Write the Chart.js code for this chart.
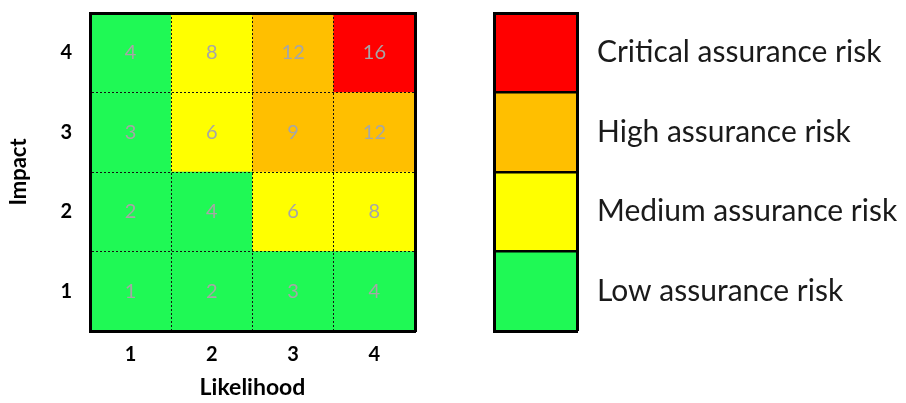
<!DOCTYPE html>
<html>
<head>
<meta charset="utf-8">
<script src="https://cdn.jsdelivr.net/npm/chart.js@4"></script>
<style>
  body { margin: 0; background: #ffffff; }
  #wrap { position: relative; width: 906px; height: 403px; }
  #matrixBox { position: absolute; left: 0; top: 0; width: 470px; height: 403px; }
  #keyBox { position: absolute; left: 470px; top: 0; width: 436px; height: 403px; }
</style>
</head>
<body>
<div id="wrap">
  <div id="matrixBox"><canvas id="matrixChart"></canvas></div>
  <div id="keyBox"><canvas id="keyChart"></canvas></div>
</div>
<script>
// Likelihood along the bottom, impact up the side
var likelihood = ['1', '2', '3', '4'];
var impact = ['1', '2', '3', '4'];

// scores for each impact row (bottom row first)
var scoresImpact1 = [1, 2, 3, 4];
var scoresImpact2 = [2, 4, 6, 8];
var scoresImpact3 = [3, 6, 9, 12];
var scoresImpact4 = [4, 8, 12, 16];

var GREEN = '#1FF955';
var YELLOW = '#FFFF00';
var ORANGE = '#FFBF00';
var RED = '#FF0000';

// cell colours, bottom row first
var coloursImpact1 = [GREEN, GREEN, GREEN, GREEN];
var coloursImpact2 = [GREEN, GREEN, YELLOW, YELLOW];
var coloursImpact3 = [GREEN, YELLOW, ORANGE, ORANGE];
var coloursImpact4 = [GREEN, YELLOW, ORANGE, RED];

// key, bottom first
var keyLabels = ['Low assurance risk', 'Medium assurance risk', 'High assurance risk', 'Critical assurance risk'];
var keyColours = [GREEN, YELLOW, ORANGE, RED];

var FONT = 'Lato, "Open Sans", sans-serif';

var scores = [scoresImpact1, scoresImpact2, scoresImpact3, scoresImpact4];
var colours = [coloursImpact1, coloursImpact2, coloursImpact3, coloursImpact4];

// inner half steps only: lines on whole numbers, labels in between
function halfTicks(scale) {
    var t = [];
    for (var v = scale.min + 0.5; v < scale.max; v += 0.5) t.push({ value: v });
    scale.ticks = t;
}
function isWhole(v) { return Math.abs(v - Math.round(v)) < 0.001; }

// keep the plot area where it is, no room for label overhang
function noOverhang(s) {
    s.paddingTop = 0;
    s.paddingBottom = 0;
}

// writes the score in the middle of each cell
var cellLabels = {
    id: 'cellLabels',
    afterDatasetsDraw: function(chart) {
        var ctx = chart.ctx;
        ctx.save();
        ctx.font = '20px ' + FONT;
        ctx.fillStyle = '#A6A6A6';
        ctx.textAlign = 'center';
        ctx.textBaseline = 'middle';
        chart.data.datasets.forEach(function(ds, di) {
            var meta = chart.getDatasetMeta(di);
            meta.data.forEach(function(bar, i) {
                var mid = bar.y + (bar.base - bar.y) / 2;
                ctx.fillText(String(ds.scores[i]), bar.x, mid);
            });
        });
        ctx.restore();
    }
};

function borderAxis(position) {
    return {
        position: position,
        display: true,
        grid: { display: false, drawTicks: false },
        ticks: { display: false },
        border: { display: true, color: '#000000', width: 3, z: 2 },
        afterFit: function(s) {
            if (position === 'top') s.height = 0; else s.width = 0;
            noOverhang(s);
        }
    };
}

var matrixDatasets = impact.map(function(lbl, i) {
    return {
        label: 'Impact ' + lbl,
        data: likelihood.map(function() { return 1; }),
        scores: scores[i],
        backgroundColor: colours[i],
        borderWidth: 0,
        categoryPercentage: 1,
        barPercentage: 1
    };
});

new Chart(document.getElementById('matrixChart'), {
    type: 'bar',
    data: { labels: likelihood, datasets: matrixDatasets },
    plugins: [cellLabels],
    options: {
        responsive: true,
        maintainAspectRatio: false,
        animation: false,
        events: [],
        layout: { padding: { left: 0, top: 13, right: 55, bottom: 0 } },
        plugins: { legend: { display: false }, tooltip: { enabled: false } },
        scales: {
            x: {
                stacked: true,
                grid: { color: '#111111', lineWidth: 1, drawTicks: false, z: 1 },
                border: { display: true, color: '#000000', width: 3, dash: [2, 2], z: 2 },
                ticks: { color: '#000000', font: { family: FONT, size: 20, weight: 'bold' }, padding: 12 },
                title: { display: true, text: 'Likelihood', color: '#000000', font: { family: FONT, size: 23, weight: 'bold' }, padding: { top: 0, bottom: 2 } },
                afterFit: function(s) { s.height = 72; }
            },
            y: {
                stacked: true,
                min: 0,
                max: 4,
                afterBuildTicks: halfTicks,
                grid: {
                    drawTicks: false,
                    lineWidth: 1,
                    z: 1,
                    color: function(c) { return c.tick && isWhole(c.tick.value) ? '#111111' : 'rgba(0,0,0,0)'; }
                },
                border: { display: true, color: '#000000', width: 3, dash: [2, 2], z: 2 },
                ticks: {
                    autoSkip: false,
                    padding: 18,
                    color: '#000000',
                    font: { family: FONT, size: 20, weight: 'bold' },
                    callback: function(v) { return isWhole(v) ? '' : impact[Math.floor(v)]; }
                },
                title: { display: true, text: 'Impact', color: '#000000', font: { family: FONT, size: 22, weight: 'bold' }, padding: { top: 6, bottom: 0 } },
                afterFit: function(s) { s.width = 90; noOverhang(s); }
            },
            xTop: borderAxis('top'),
            yRight: borderAxis('right')
        }
    }
});

// key: one stacked column, labels on the right axis
var keyDatasets = keyLabels.map(function(lbl, i) {
    return {
        label: lbl,
        data: [1],
        backgroundColor: keyColours[i],
        borderWidth: 0,
        categoryPercentage: 1,
        barPercentage: 1
    };
});

new Chart(document.getElementById('keyChart'), {
    type: 'bar',
    data: { labels: ['key'], datasets: keyDatasets },
    options: {
        responsive: true,
        maintainAspectRatio: false,
        animation: false,
        events: [],
        layout: { padding: { left: 24, top: 13, right: 0, bottom: 0 } },
        plugins: { legend: { display: false }, tooltip: { enabled: false } },
        scales: {
            x: {
                stacked: true,
                grid: { display: false, drawTicks: false },
                border: { display: true, color: '#000000', width: 3, z: 2 },
                ticks: { display: false },
                afterFit: function(s) { s.height = 72; }
            },
            y: {
                stacked: true,
                position: 'right',
                min: 0,
                max: 4,
                afterBuildTicks: halfTicks,
                grid: {
                    drawTicks: false,
                    z: 1,
                    lineWidth: function(c) { return c.tick && isWhole(c.tick.value) ? 2.5 : 0; },
                    color: '#000000'
                },
                border: { display: true, color: '#000000', width: 3, z: 2 },
                ticks: {
                    autoSkip: false,
                    padding: 20,
                    color: '#1A1A1A',
                    font: { family: FONT, size: 30 },
                    callback: function(v) { return isWhole(v) ? '' : keyLabels[Math.floor(v)]; }
                },
                afterFit: function(s) { s.width = 329; noOverhang(s); }
            },
            xTop: borderAxis('top'),
            yLeft: borderAxis('left')
        }
    }
});
</script>
</body>
</html>
